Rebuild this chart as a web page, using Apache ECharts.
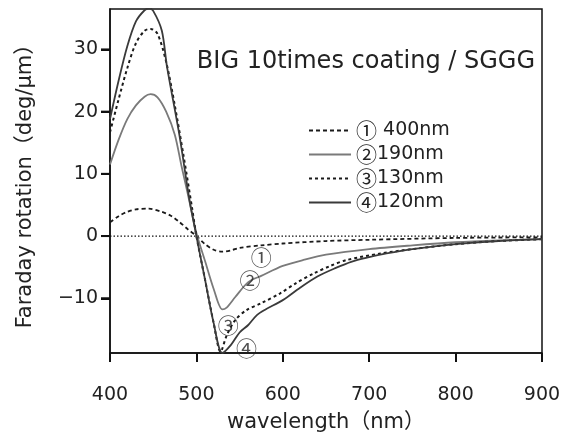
<!DOCTYPE html>
<html><head><meta charset="utf-8">
<script src="https://cdn.jsdelivr.net/npm/echarts@6/dist/echarts.min.js"></script>
<style>html,body{margin:0;padding:0;background:#fff}#c{width:568px;height:432px}</style>
</head><body><div id="c"></div>
<script>
const FONT = '"DejaVu Sans", "Noto Sans CJK JP", sans-serif';
const CJK = '"Noto Sans CJK JP", "DejaVu Sans", sans-serif';
// wavelength (nm), value (deg/um)
const s1 = [[400,2.2],[410,3.2],[420,3.9],[430,4.3],[445,4.4],[460,3.9],[470,3.3],[480,2.3],[490,1.1],[500,0],[510,-1.3],[520,-2.2],[530,-2.5],[540,-2.3],[550,-1.9],[575,-1.5],[600,-1.2],[650,-0.8],[700,-0.6],[800,-0.3],[900,-0.2]];
const s2 = [[400,11.5],[410,15.5],[420,18.8],[430,21],[440,22.4],[447,22.8],[455,22.3],[465,20],[475,16.3],[483,11.1],[490,6.8],[500,0.5],[510,-4],[520,-8.5],[530,-11.8],[535,-11.5],[545,-9.8],[560,-7.4],[575,-6.4],[600,-4.8],[625,-3.8],[650,-3.0],[700,-2.1],[750,-1.5],[800,-1.0],[850,-0.7],[900,-0.5]];
const s3 = [[400,16.7],[410,22],[420,27],[430,31],[440,33],[447,33.3],[455,32.5],[465,28],[475,21],[485,13],[495,4.5],[500,0],[510,-7],[520,-14],[528,-18.6],[535,-16],[545,-13.5],[558,-11.9],[575,-10.8],[597,-9.2],[615,-7.6],[636,-6.0],[655,-4.8],[674,-3.85],[713,-2.8],[750,-2.1],[800,-1.3],[850,-0.8],[900,-0.5]];
const s4 = [[400,18.8],[410,25],[420,30.5],[430,34.5],[440,36.3],[445,36.6],[450,36.2],[460,33],[466,27.2],[480,16.5],[492,5.8],[500,0],[510,-7],[520,-14],[530,-18.8],[540,-17.5],[550,-15.5],[560,-14.3],[570,-12.7],[580,-11.8],[600,-10.3],[620,-8.3],[640,-6.5],[660,-5.2],[680,-4.1],[700,-3.4],[720,-2.8],[750,-2.1],[800,-1.3],[850,-0.8],[900,-0.5]];
const zeroLine = [[400,0],[900,0]];
const names = ['① 400nm','②190nm','③130nm','④120nm'];
const marks = [[575,-3.3,'①'],[562,-7.1,'②'],[537,-14.3,'③'],[558,-18.0,'④']];
const yTicks = [-10,0,10,20,30];
const X_MIN = 400, Y_MIN = -18.8, Y_MAX = 36.5;

const chart = echarts.init(document.getElementById('c'));
const lineS = (name, data, color, type, w) => ({
  name, type:'line', data, symbol:'none', smooth:0.3,
  lineStyle:{color, width:w, type}, itemStyle:{color}, z:3
});
const hiddenSplit = {show:true, lineStyle:{color:'rgba(0,0,0,0)', width:0}};
chart.setOption({
  animation:false,
  textStyle:{fontFamily:FONT},
  title:{text:'BIG 10times coating / SGGG', right:28, top:45,
    textStyle:{fontFamily:FONT, fontSize:24, fontWeight:'normal', color:'#222'}},
  grid:{left:110, right:26, top:9, bottom:79, show:true, borderColor:'#111', borderWidth:1.5, outerBoundsMode:'none'},
  legend:{orient:'vertical', left:303, top:115, itemWidth:42, itemHeight:10, itemGap:3,
    itemStyle:{opacity:0},
    formatter: n => '{c|' + n.charAt(0) + '}' + n.slice(1),
    textStyle:{fontFamily:FONT, fontSize:19, color:'#222',
      rich:{c:{fontFamily:CJK, fontSize:21, color:'#222'}}}, data:names},
  xAxis:{type:'value', min:X_MIN, max:900, interval:100,
    name:'wavelength（nm）', nameLocation:'middle', nameGap:59,
    nameTextStyle:{fontFamily:FONT, fontSize:21, color:'#222'},
    axisLine:{show:true, onZero:false, lineStyle:{color:'#111', width:1.5}},
    axisTick:{show:true, length:9, lineStyle:{color:'#111', width:2}},
    axisLabel:{fontFamily:FONT, fontSize:19, color:'#222', margin:33},
    splitLine:hiddenSplit},
  yAxis:{type:'value', min:Y_MIN, max:Y_MAX,
    name:'Faraday rotation（deg/µm）', nameLocation:'middle', nameGap:74, nameRotate:90,
    nameTextStyle:{fontFamily:FONT, fontSize:21, color:'#222'},
    axisLine:{show:true, onZero:false, lineStyle:{color:'#111', width:1.5}},
    axisTick:{show:true, length:9, lineStyle:{color:'#111', width:2}, customValues:yTicks},
    axisLabel:{fontFamily:FONT, fontSize:19, color:'#222', margin:12, customValues:yTicks,
      formatter: v => String(v).replace('-', '−')},
    splitLine:hiddenSplit},
  series:[
    {type:'line', data:zeroLine, symbol:'none', lineStyle:{color:'#111', width:1.2, type:[1.5,2]}, silent:true, z:2},
    lineS(names[0], s1, '#1a1a1a', [4,3], 1.8),
    lineS(names[1], s2, '#7a7a7a', 'solid', 1.8),
    lineS(names[2], s3, '#1a1a1a', [3,3], 2),
    lineS(names[3], s4, '#3a3a3a', 'solid', 1.8),
    {type:'scatter', symbolSize:0, silent:true, z:5,
      data:marks.map(m=>({value:[m[0],m[1]], label:{show:true, formatter:m[2]}})),
      label:{position:'inside', fontFamily:CJK, fontSize:21, color:'#222'}},
    {type:'custom', silent:true, clip:false, z:6,
      data: yTicks.map(v => [X_MIN, v]),
      renderItem: function (params, api) {
        const p = api.coord([api.value(0), api.value(1)]);
        return {type:'line', shape:{x1:p[0]-9, y1:p[1], x2:p[0], y2:p[1]},
          style:{stroke:'#111', lineWidth:2}};
      }}
  ]
});
</script></body></html>
